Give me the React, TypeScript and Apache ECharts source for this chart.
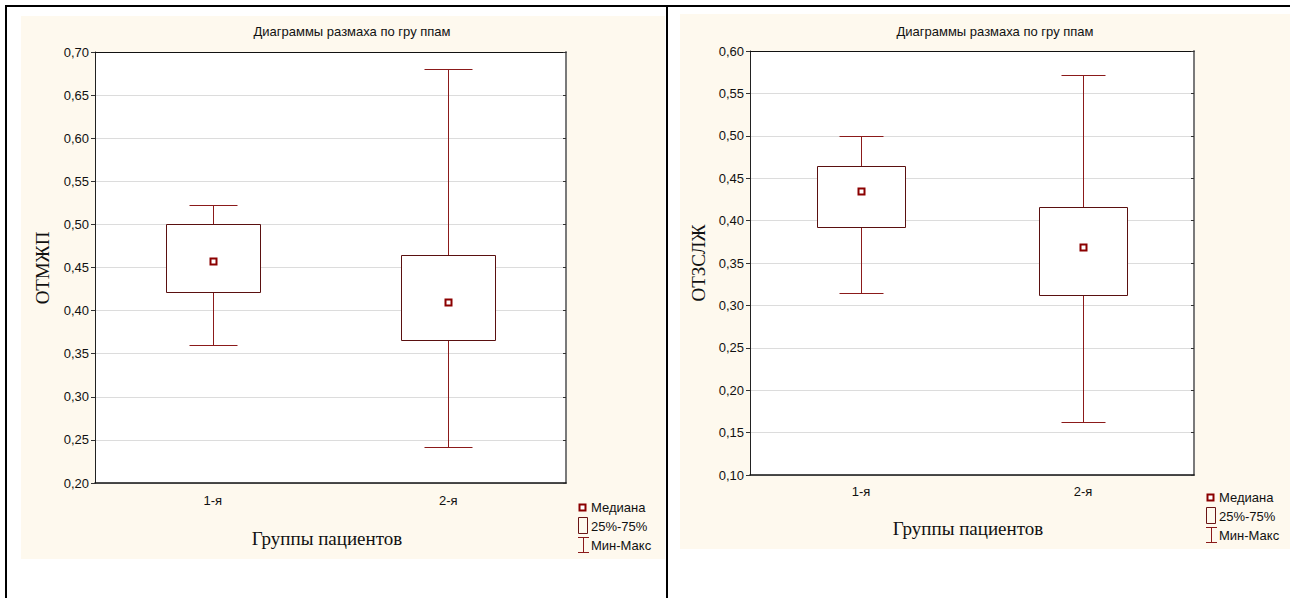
import React, { useEffect, useRef } from "react";
import * as echarts from "echarts";

const categories = ["1-я", "2-я"];
const titleText = "Диаграммы размаха по гру ппам";
const xAxisName = "Группы пациентов";
const leftYName = "ОТМЖП";
const rightYName = "ОТЗСЛЖ";
// [min, q1, median, q3, max]
const leftGroup1 = [0.36, 0.421, 0.458, 0.5, 0.523];
const leftGroup2 = [0.242, 0.366, 0.41, 0.464, 0.68];
const rightGroup1 = [0.315, 0.393, 0.435, 0.464, 0.5];
const rightGroup2 = [0.162, 0.312, 0.369, 0.416, 0.572];
const leftRange = [0.2, 0.7];
const rightRange = [0.1, 0.6];
const tickStep = 0.05;
const legendLabels = ["Медиана", "25%-75%", "Мин-Макс"];

const SANS = "'Liberation Sans', Arial, sans-serif";
const SERIF = "'Liberation Serif', 'Times New Roman', serif";
const CREAM = "#fef9ee";
const BOX = "#5a1010";
const WHISK = "#8b1a1a";
const MED = "#8b0000";

function renderBox(params: any, api: any) {
  const cat = api.value(0);
  const pMin = api.coord([cat, api.value(1)]);
  const pQ1 = api.coord([cat, api.value(2)]);
  const pMed = api.coord([cat, api.value(3)]);
  const pQ3 = api.coord([cat, api.value(4)]);
  const pMax = api.coord([cat, api.value(5)]);
  const band = api.size([1, 0])[0];
  const half = Math.round(band * 0.2);
  const capHalf = Math.round(band * 0.1);
  const x = Math.round(pMin[0]) + 0.5;
  const r = (v: number) => Math.round(v) + 0.5;
  const ln = (x1: number, y1: number, x2: number, y2: number, c: string) => ({
    type: "line",
    shape: { x1, y1, x2, y2 },
    style: { stroke: c, lineWidth: 1 },
  });
  return {
    type: "group",
    children: [
      ln(x, r(pMax[1]), x, r(pQ3[1]), WHISK),
      ln(x, r(pQ1[1]), x, r(pMin[1]), WHISK),
      ln(x - capHalf, r(pMax[1]), x + capHalf, r(pMax[1]), WHISK),
      ln(x - capHalf, r(pMin[1]), x + capHalf, r(pMin[1]), WHISK),
      {
        type: "rect",
        shape: { x: x - half, y: r(pQ3[1]), width: 2 * half, height: r(pQ1[1]) - r(pQ3[1]) },
        style: { fill: "#fff", stroke: BOX, lineWidth: 1 },
      },
      {
        type: "rect",
        shape: { x: Math.round(pMed[0]) - 2.5, y: Math.round(pMed[1]) - 2.5, width: 6, height: 6 },
        style: { fill: "#fff", stroke: MED, lineWidth: 2 },
      },
    ],
  };
}

const fmt = (v: number) => v.toFixed(2).replace(".", ",");

function axesFor(gi: number, range: number[], labelMargin: number) {
  const xAxes = [
    {
      type: "category",
      gridIndex: gi,
      data: categories,
      position: "bottom",
      axisLine: { lineStyle: { color: "#111", width: 1.5 } },
      axisTick: { inside: true, alignWithLabel: true, length: 3, lineStyle: { color: "#333" } },
      axisLabel: { fontFamily: SANS, fontSize: 13, color: "#111", margin: labelMargin },
    },
    {
      type: "category",
      gridIndex: gi,
      data: categories,
      position: "top",
      axisLine: { lineStyle: { color: "#111", width: 1 } },
      axisTick: { inside: true, alignWithLabel: true, length: 3, lineStyle: { color: "#333" } },
      axisLabel: { show: false },
    },
  ];
  const yAxes = [
    {
      type: "value",
      gridIndex: gi,
      position: "left",
      min: range[0],
      max: range[1],
      interval: tickStep,
      axisLine: { show: true, lineStyle: { color: "#222", width: 1 } },
      axisTick: { show: true, length: 4, lineStyle: { color: "#333" } },
      axisLabel: { fontFamily: SANS, fontSize: 13, color: "#111", margin: 6, formatter: fmt },
      splitLine: { show: true, lineStyle: { color: "#dcdcdc", width: 1 } },
    },
    {
      type: "value",
      gridIndex: gi,
      position: "right",
      min: range[0],
      max: range[1],
      interval: tickStep,
      axisLine: { show: true, lineStyle: { color: "#7a7a7a", width: 2 } },
      axisTick: { show: true, inside: true, length: 3, lineStyle: { color: "#333" } },
      axisLabel: { show: false },
      splitLine: { show: false },
    },
  ];
  return { xAxes, yAxes };
}

function legendGraphics(x: number, y: number) {
  // y: center of first line
  return [
    { type: "rect", shape: { x: x + 1.5, y: y - 2.5, width: 6, height: 6 }, style: { fill: "#fff", stroke: MED, lineWidth: 2 } },
    { type: "text", x: x + 13, y: y, style: { text: legendLabels[0], font: `13px ${SANS}`, fill: "#111", verticalAlign: "middle" } },
    { type: "rect", shape: { x: x + 0.5, y: y + 10.5, width: 9, height: 16 }, style: { fill: "none", stroke: "#6b1515", lineWidth: 1 } },
    { type: "text", x: x + 13, y: y + 19, style: { text: legendLabels[1], font: `13px ${SANS}`, fill: "#111", verticalAlign: "middle" } },
    { type: "line", shape: { x1: x + 5.5, y1: y + 30, x2: x + 5.5, y2: y + 45 }, style: { stroke: WHISK, lineWidth: 1 } },
    { type: "line", shape: { x1: x, y1: y + 30.5, x2: x + 11, y2: y + 30.5 }, style: { stroke: WHISK, lineWidth: 1 } },
    { type: "line", shape: { x1: x, y1: y + 45.5, x2: x + 11, y2: y + 45.5 }, style: { stroke: WHISK, lineWidth: 1 } },
    { type: "text", x: x + 13, y: y + 38, style: { text: legendLabels[2], font: `13px ${SANS}`, fill: "#111", verticalAlign: "middle" } },
  ];
}

export default function App() {
  const ref = useRef<HTMLDivElement>(null);
  useEffect(() => {
    if (!ref.current) return;
    const chart = echarts.init(ref.current, undefined, { renderer: "svg" });
    const L = axesFor(0, leftRange, 11);
    const R = axesFor(1, rightRange, 10);
    const xAxis = [...L.xAxes, ...R.xAxes];
    const yAxis = [...L.yAxes, ...R.yAxes];
    const toData = (groups: number[][]) => groups.map((g, i) => [i, ...g]);
    const option: any = {
      animation: false,
      backgroundColor: "#fff",
      grid: [
        { left: 95, top: 52, width: 471, height: 431, show: true, backgroundColor: "#fff", borderWidth: 0 },
        { left: 750, top: 51, width: 444, height: 424, show: true, backgroundColor: "#fff", borderWidth: 0 },
      ],
      xAxis,
      yAxis,
      series: [
        {
          type: "custom",
          xAxisIndex: 0,
          yAxisIndex: 0,
          renderItem: renderBox,
          encode: { x: 0, y: [1, 2, 3, 4, 5] },
          data: toData([leftGroup1, leftGroup2]),
          z: 5,
        },
        {
          type: "custom",
          xAxisIndex: 2,
          yAxisIndex: 2,
          renderItem: renderBox,
          encode: { x: 0, y: [1, 2, 3, 4, 5] },
          data: toData([rightGroup1, rightGroup2]),
          z: 5,
        },
      ],
      graphic: [
        { type: "rect", z: -10, silent: true, shape: { x: 21, y: 16, width: 644, height: 543 }, style: { fill: CREAM } },
        { type: "rect", z: -10, silent: true, shape: { x: 680, y: 14, width: 610, height: 535 }, style: { fill: CREAM } },
        { type: "line", z: -9, silent: true, shape: { x1: 5, y1: 6, x2: 1290, y2: 6 }, style: { stroke: "#000", lineWidth: 2 } },
        { type: "line", z: -9, silent: true, shape: { x1: 6, y1: 5, x2: 6, y2: 598 }, style: { stroke: "#000", lineWidth: 2 } },
        { type: "line", z: -9, silent: true, shape: { x1: 667, y1: 5, x2: 667, y2: 598 }, style: { stroke: "#000", lineWidth: 2 } },
        { type: "text", x: 352, y: 31, style: { text: titleText, font: `13px ${SANS}`, fill: "#111", align: "center", verticalAlign: "middle" } },
        { type: "text", x: 995, y: 31, style: { text: titleText, font: `13px ${SANS}`, fill: "#111", align: "center", verticalAlign: "middle" } },
        { type: "text", x: 327, y: 538, style: { text: xAxisName, font: `19px ${SERIF}`, fill: "#111", align: "center", verticalAlign: "middle" } },
        { type: "text", x: 968, y: 528, style: { text: xAxisName, font: `19px ${SERIF}`, fill: "#111", align: "center", verticalAlign: "middle" } },
        { type: "text", x: 42, y: 268, rotation: Math.PI / 2, style: { text: leftYName, font: `19px ${SERIF}`, fill: "#111", align: "center", verticalAlign: "middle" } },
        { type: "text", x: 698, y: 263, rotation: Math.PI / 2, style: { text: rightYName, font: `19px ${SERIF}`, fill: "#111", align: "center", verticalAlign: "middle" } },
        ...legendGraphics(578, 507),
        ...legendGraphics(1206, 497),
      ],
    };
    chart.setOption(option);
    return () => chart.dispose();
  }, []);
  return (
    <div
      ref={ref}
      style={{ position: "fixed", left: 0, top: 0, width: 1290, height: 598 }}
    />
  );
}
